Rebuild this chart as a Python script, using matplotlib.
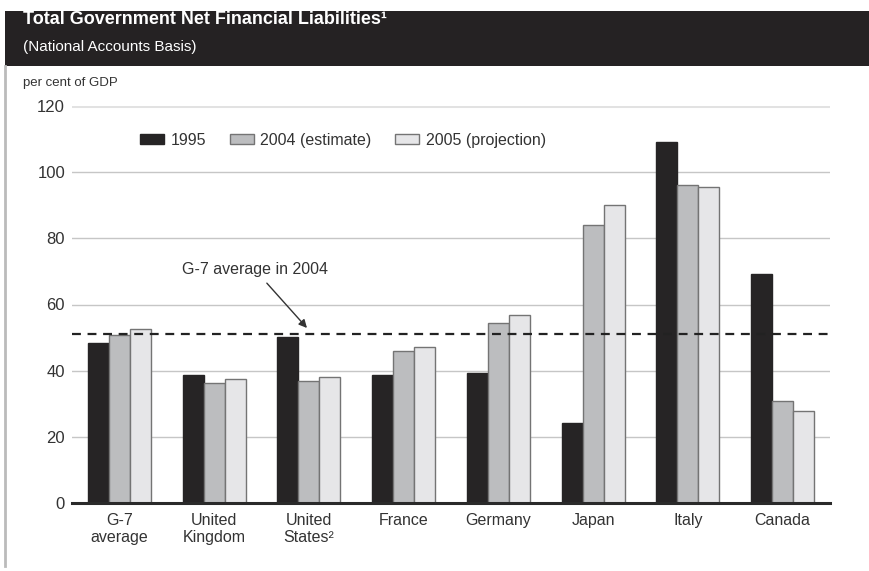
import matplotlib
matplotlib.use("Agg")
import matplotlib.pyplot as plt
import numpy as np
from matplotlib.patches import Rectangle
from matplotlib.lines import Line2D

plt.rcParams['font.family'] = ['Liberation Sans', 'DejaVu Sans']

countries = ['G-7\naverage', 'United\nKingdom', 'United\nStates²', 'France',
             'Germany', 'Japan', 'Italy', 'Canada']
y1995 = [48.3, 38.7, 50.2, 38.7, 39.3, 24.2, 109.1, 69.2]
y2004 = [50.8, 36.3, 36.9, 46.0, 54.4, 84.0, 96.1, 30.8]
y2005 = [52.6, 37.5, 38.1, 47.2, 56.8, 90.1, 95.5, 27.8]
series_names = ['1995', '2004 (estimate)', '2005 (projection)']
g7_avg_2004 = 51

dark = '#262425'
mid = '#bcbdbf'
light = '#e6e6e8'
txt = '#333333'

fig = plt.figure(figsize=(8.69, 5.71), dpi=100)
W, H = 869, 571

# header band, top edge of the title is cut by the white strip
fig.patches.append(Rectangle((5 / W, 1 - 66 / H), 1, 56 / H, transform=fig.transFigure,
                             facecolor='#252223', edgecolor='none', zorder=1))
fig.patches.append(Rectangle((0, 1 - 11 / H), 1, 11 / H, transform=fig.transFigure,
                             facecolor='white', edgecolor='none', zorder=5))
fig.lines.append(Line2D([5 / W, 5 / W], [1 - 66 / H, 1 - 566 / H], transform=fig.transFigure,
                        color='#bbbbbb', lw=2))
fig.text(23 / W, 1 - 23.5 / H, 'Total Government Net Financial Liabilities¹', color='white',
         fontsize=13, fontweight='bold', ha='left', va='baseline', zorder=3)
fig.text(23 / W, 1 - 51 / H, '(National Accounts Basis)', color='white',
         fontsize=11, ha='left', va='baseline', zorder=3)
fig.text(23 / W, 1 - 86 / H, 'per cent of GDP', color=txt, fontsize=9.5,
         ha='left', va='baseline')

ax = fig.add_axes([72 / W, 1 - 503 / H, 758 / W, 397 / H])
x = np.arange(len(countries))
w = 0.222
ax.bar(x - w, y1995, w, color=dark, edgecolor=dark, lw=1, label=series_names[0], zorder=3)
ax.bar(x, y2004, w, color=mid, edgecolor='#747474', lw=1, label=series_names[1], zorder=3)
ax.bar(x + w, y2005, w, color=light, edgecolor='#747474', lw=1, label=series_names[2], zorder=3)

ax.set_xlim(-0.5, len(countries) - 0.5)
ax.set_ylim(0, 120)
ax.set_yticks(range(0, 121, 20))
for v in range(20, 101, 20):
    ax.axhline(v, color='#c6c6c6', lw=1, zorder=1)
ax.axhline(120, color='#e2e2e2', lw=2.2, zorder=1)
ax.axhline(0, color='#2a2a2a', lw=2.2, zorder=4, clip_on=False)
ax.axhline(g7_avg_2004, color='#222222', lw=1.6, ls=(0, (4, 3)), zorder=4)

for s in ax.spines.values():
    s.set_visible(False)
ax.tick_params(length=0, labelsize=11.5, labelcolor=txt)
ax.tick_params(axis='y', pad=5, labelsize=12)
ax.tick_params(axis='x', pad=7)
ax.set_xticks(x)
ax.set_xticklabels(countries, linespacing=1.15)

ax.annotate('G-7 average in 2004', xy=(1.98, 52.9), xytext=(1.43, 70.5),
            ha='center', va='center', fontsize=11.5, color=txt,
            arrowprops=dict(arrowstyle='-|>', color='#333333', lw=1, mutation_scale=12,
                            shrinkA=3, shrinkB=0))

ax.legend(loc='center left', bbox_to_anchor=(0.0897, 0.914), ncol=3, frameon=False,
          fontsize=11.5, borderpad=0, borderaxespad=0, handlelength=1.5, handleheight=0.55,
          handletextpad=0.4, columnspacing=1.5, labelcolor=txt)

fig.savefig('out.png', dpi=100)
